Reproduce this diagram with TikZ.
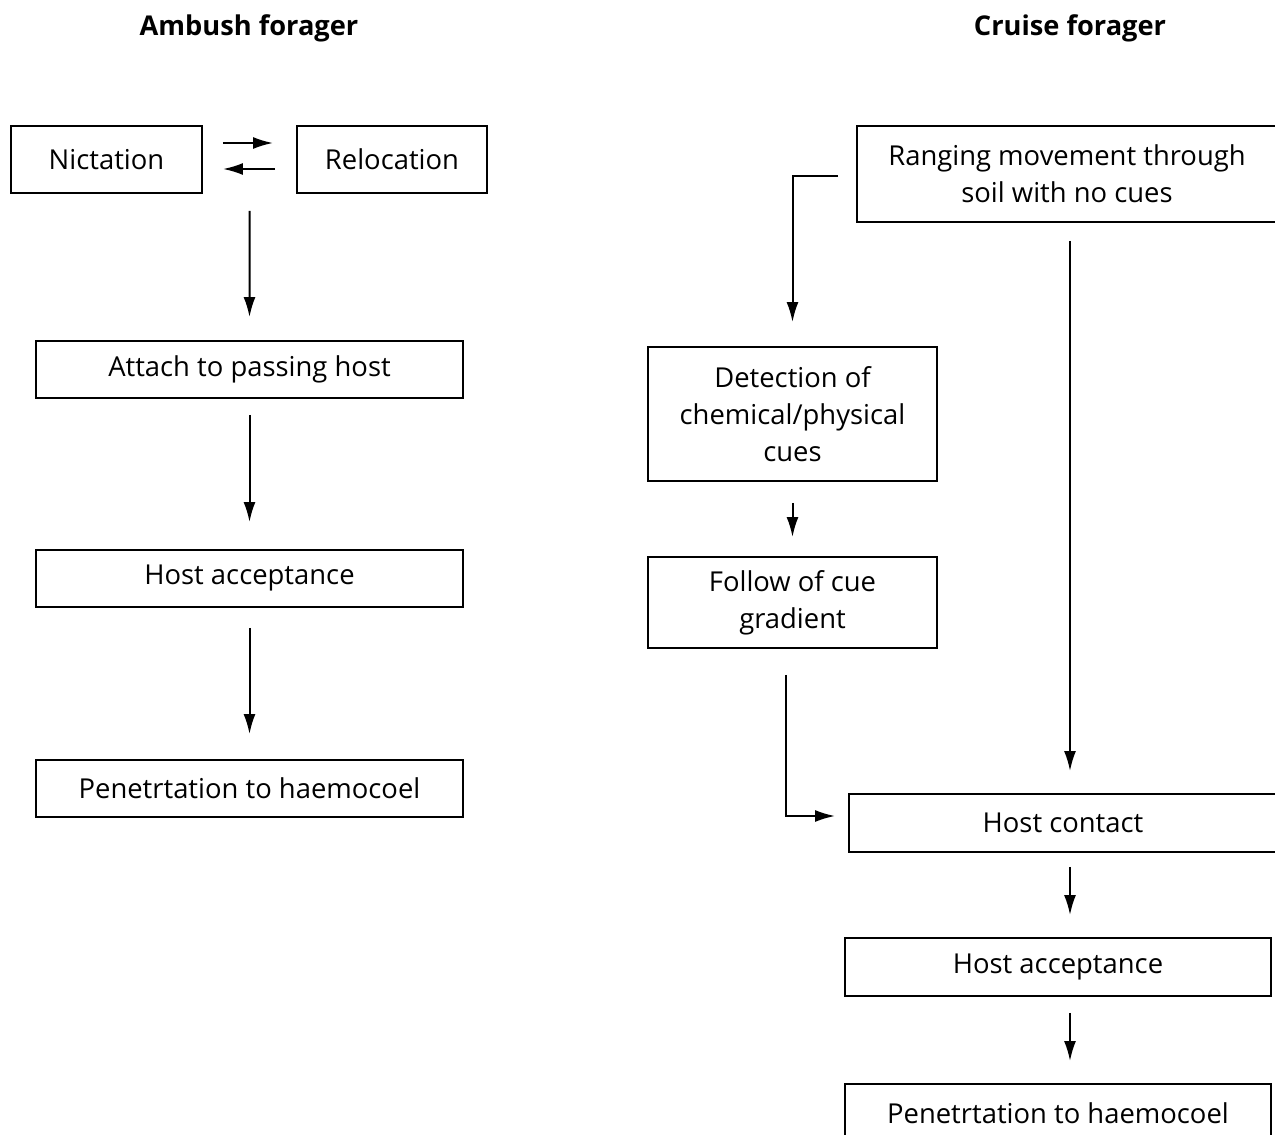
\documentclass[tikz,border=0pt]{standalone}
\usepackage{fontspec}
\setmainfont{Open Sans}
\usetikzlibrary{arrows.meta,calc}
\tikzset{
  box/.style={draw, line width=0.4mm, align=center, inner sep=0pt,
    font=\fontsize{15.6}{21}\selectfont},
  head/.style={font=\bfseries\fontsize{15.5}{19}\selectfont},
  arr/.style={line width=0.4mm, -{Latex[length=4mm,width=2.4mm]}}
}

\begin{document}
\begin{tikzpicture}[x=0.02cm, y=-0.02cm]
			%%%%% START %%%%%
			\useasboundingbox (0, 0) rectangle (1275, 1135);
			\clip (0, 0) rectangle (1275, 1135);
			
			\node[head] (ambush) at (249, 28) {Ambush forager};
			\node[head] (cruise) at (1070, 28) {Cruise forager};
			
			% ambush forager
			\node[box, minimum width=38.2mm, minimum height=13.4mm] (nict) at (106.5, 159.5) {Nictation};
			\node[box, minimum width=38mm, minimum height=13.4mm] (reloc) at (392, 159.5) {Relocation};
			\node[box, minimum width=85.4mm, minimum height=11.4mm] (attach) at (249.5, 369.5) {Attach to passing host};
			\node[box, minimum width=85.4mm, minimum height=11.4mm] (acceptA) at (249.5, 578.5) {Host acceptance};
			\node[box, minimum width=85.4mm, minimum height=11.4mm] (penetrA) at (249.5, 788.5) {Penetrtation to haemocoel};
			
			\draw[arr, shorten <=4mm, shorten >=4.6mm] ([yshift=3.3mm]nict.east) -- ([yshift=3.3mm]reloc.west);
			\draw[arr, shorten <=4.2mm, shorten >=4mm] ([yshift=-1.9mm]reloc.west) -- ([yshift=-1.9mm]nict.east);
			\coordinate (between) at ($(nict.south east)!0.5!(reloc.south west)$);
			\draw[arr, shorten <=3.4mm, shorten >=4.6mm] (between) -- (attach.north);
			\draw[arr, shorten <=3.2mm, shorten >=5.4mm] (attach.south) -- (acceptA.north);
			\draw[arr, shorten <=4mm, shorten >=5mm] (acceptA.south) -- (penetrA.north);
			
			% cruise forager
			\node[box, minimum width=84mm, minimum height=19.2mm] (ranging) at (1067, 174) {Ranging movement through\\soil with no cues};
			\node[box, minimum width=57.8mm, minimum height=26.8mm] (detect) at (792.5, 414) {Detection of\\chemical/physical\\cues};
			\node[box, minimum width=57.8mm, minimum height=18.2mm] (follow) at (792.5, 602.5) {Follow of cue\\gradient};
			\node[box, minimum width=85.6mm, minimum height=11.6mm] (contact) at (1063, 823) {Host contact};
			\node[box, minimum width=85.2mm, minimum height=11.6mm] (acceptB) at (1058, 967) {Host acceptance};
			\node[box, minimum width=85.2mm, minimum height=11.6mm] (penetrB) at (1058, 1113) {Penetrtation to haemocoel};
			
			\coordinate (trunk) at ([xshift=0.6mm]ranging.south);
			\draw[arr, shorten <=3.6mm, shorten >=4.8mm] ([yshift=-0.4mm]ranging.west) -| (detect.north);
			\draw[arr, shorten <=4.2mm, shorten >=3.8mm] (detect.south) -- (follow.north);
			\draw[arr, shorten <=5.2mm, shorten >=2.6mm] ([xshift=-1.3mm]follow.south) |- ([yshift=1.4mm]contact.west);
			\draw[arr, shorten <=3.6mm, shorten >=4.4mm] (trunk) -- (trunk |- contact.north);
			\draw[arr, shorten <=2.8mm, shorten >=4.4mm] (trunk |- contact.south) -- (trunk |- acceptB.north);
			\draw[arr, shorten <=3.2mm, shorten >=4.4mm] (trunk |- acceptB.south) -- (trunk |- penetrB.north);
			%%%%% END %%%%%
\end{tikzpicture}
\end{document}
